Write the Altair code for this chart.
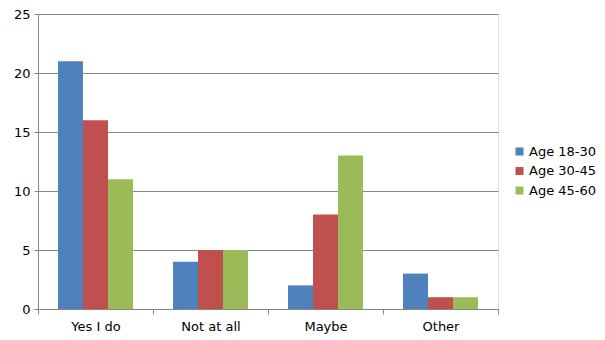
import altair as alt
import pandas as pd

categories = ["Yes I do", "Not at all", "Maybe", "Other"]
series = ["Age 18-30", "Age 30-45", "Age 45-60"]
values_18_30 = [21, 4, 2, 3]
values_30_45 = [16, 5, 8, 1]
values_45_60 = [11, 5, 13, 1]
colors = ["#4F81BD", "#C0504D", "#9BBB59"]

rows = []
for s, vals in zip(series, [values_18_30, values_30_45, values_45_60]):
    for c, v in zip(categories, vals):
        rows.append({"category": c, "series": s, "value": v})
df = pd.DataFrame(rows)

font = "DejaVu Sans"

chart = alt.Chart(df).mark_bar().encode(
    x=alt.X("category:N", sort=categories, title=None,
            scale=alt.Scale(paddingInner=0, paddingOuter=0),
            axis=alt.Axis(labelAngle=0, tickBand="extent", domainColor="#868686",
                          tickColor="#868686", tickSize=5, labelPadding=6,
                          labelFont=font, labelFontSize=13, labelColor="#000000",
                          grid=False)),
    xOffset=alt.XOffset("series:N", sort=series,
                        scale=alt.Scale(paddingInner=0, paddingOuter=0.8)),
    y=alt.Y("value:Q", title=None,
            scale=alt.Scale(domain=[0, 25], nice=False),
            axis=alt.Axis(values=[0, 5, 10, 15, 20, 25], grid=True, gridColor="#868686",
                          domainColor="#868686", tickColor="#868686", tickSize=4,
                          labelPadding=4, labelFont=font, labelFontSize=13,
                          labelColor="#000000")),
    color=alt.Color("series:N", sort=series,
                    scale=alt.Scale(domain=series, range=colors),
                    legend=alt.Legend(title=None, orient="none", legendX=475, legendY=131,
                                      symbolType="square", symbolSize=64,
                                      symbolStrokeWidth=0, labelFont=font,
                                      labelFontSize=13, labelColor="#000000",
                                      rowPadding=5.5, labelOffset=3)),
).properties(
    width=460, height=295,
    autosize=alt.AutoSizeParams(type="none"),
    padding={"left": 38, "top": 14, "right": 107, "bottom": 31},
).configure_view(stroke=None).configure(background="white")

chart.save("out.html", embed_options={"renderer": "svg", "actions": False})
